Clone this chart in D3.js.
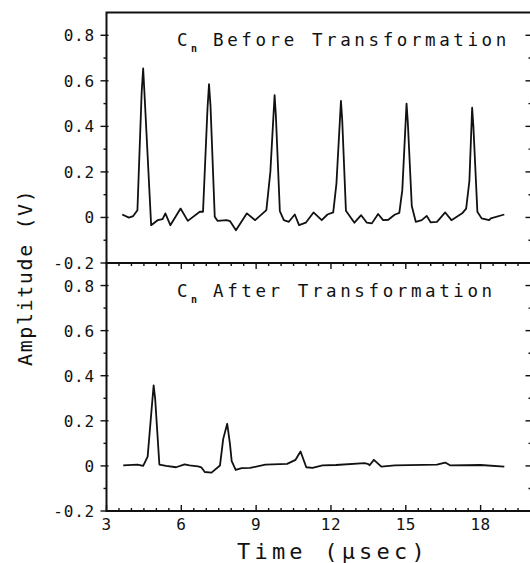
<!DOCTYPE html>
<html>
<head>
<meta charset="utf-8">
<script src="https://cdn.jsdelivr.net/npm/d3@7"></script>
<style>
    body { margin: 0; background: #fff; }
    svg { display: block; }
    text { font-family: "DejaVu Sans Mono", monospace; fill: #111; }
    .frame { fill: none; stroke: #111; stroke-width: 2; }
    .tick { stroke: #111; stroke-width: 1.4; }
    .trace { fill: none; stroke: #111; stroke-width: 1.8; stroke-linejoin: round; }
</style>
</head>
<body>
<svg id="chart" width="530" height="563"></svg>
<script>
// Signal C_n before / after transformation, two stacked panels

// Top panel: C_n before transformation (time in usec, amplitude in V)
const beforeTime = [3.63, 3.90, 4.07, 4.24, 4.41, 4.47, 4.52, 4.79, 5.05, 5.25, 5.36, 5.56, 5.97, 6.26, 6.74, 6.87,
    7.05, 7.11, 7.17, 7.34, 7.45, 7.82, 7.95, 8.19, 8.63, 8.96, 9.41, 9.57, 9.74, 9.79, 9.95, 10.11, 10.31, 10.55,
    10.72, 10.99, 11.30, 11.63, 11.86, 12.09, 12.22, 12.40, 12.45, 12.60, 12.94, 13.21, 13.44, 13.64, 13.89, 14.09,
    14.30, 14.55, 14.74, 14.86, 15.03, 15.08, 15.24, 15.40, 15.64, 15.84, 16.00, 16.25, 16.58, 16.83, 17.26, 17.42,
    17.55, 17.66, 17.71, 17.87, 18.04, 18.34, 18.41, 18.95];
const beforeAmp = [0.013, -0.001, 0.006, 0.032, 0.55, 0.654, 0.55, -0.034, -0.012, -0.007, 0.018, -0.034, 0.039, -0.015, 0.025, 0.025,
    0.48, 0.585, 0.49, 0.003, -0.015, -0.012, -0.016, -0.056, 0.018, -0.012, 0.032, 0.2, 0.537, 0.45, 0.028, -0.012, -0.019, 0.013,
    -0.034, -0.023, 0.022, -0.012, 0.013, 0.022, 0.15, 0.512, 0.43, 0.029, -0.023, 0.010, -0.023, -0.026, 0.015, -0.012,
    -0.010, 0.012, 0.020, 0.12, 0.500, 0.42, 0.050, -0.019, -0.012, 0.007, -0.022, -0.019, 0.022, -0.012, 0.018, 0.039,
    0.16, 0.482, 0.40, 0.025, -0.004, -0.012, -0.004, 0.013];

// Bottom panel: C_n after transformation
const afterTime = [3.67, 4.24, 4.47, 4.65, 4.80, 4.89, 4.95, 5.12, 5.39, 5.79, 6.13, 6.33, 6.67, 6.80, 6.94, 7.21,
    7.55, 7.68, 7.84, 7.95, 8.02, 8.18, 8.42, 8.76, 9.37, 10.24, 10.58, 10.78, 11.01, 11.26, 11.66, 12.20,
    13.35, 13.50, 13.55, 13.72, 14.02, 14.56, 16.25, 16.58, 16.79, 18.0, 18.95];
const afterAmp = [0.002, 0.006, 0.0, 0.041, 0.24, 0.357, 0.30, 0.006, 0.0, -0.006, 0.007, 0.002, -0.002, -0.006, -0.027, -0.030,
    0.002, 0.12, 0.187, 0.098, 0.021, -0.018, -0.010, -0.009, 0.006, 0.009, 0.027, 0.064, -0.006, -0.009, 0.002, 0.004,
    0.012, 0.008, 0.003, 0.027, -0.003, 0.002, 0.006, 0.015, 0.002, 0.004, -0.003];

// Axes
const xDomain = [3, 20];
const yDomain = [-0.2, 0.9];
const xTickValues = [3, 6, 9, 12, 15, 18];
const xTickLabels = ['3', '6', '9', '12', '15', '18'];
const yTickValues = [-0.2, 0, 0.2, 0.4, 0.6, 0.8];
const yTickLabels = ['-0.2', '0', '0.2', '0.4', '0.6', '0.8'];

(function() {
    'use strict';

    const svg = d3.select('#chart');
    const left = 106.5, right = 530.5;
    const frameRight = 532.5;  // right border sits just outside the picture

    const x = d3.scaleLinear().domain(xDomain).range([left, right]);

    const panels = [
        { label: 'Before Transformation', time: beforeTime, amp: beforeAmp, top: 12.5, bottom: 263 },
        { label: 'After Transformation', time: afterTime, amp: afterAmp, top: 263, bottom: 511 }
    ];

    panels.forEach((p, i) => {
        const y = d3.scaleLinear().domain(yDomain).range([p.bottom, p.top]);
        const g = svg.append('g').attr('class', 'panel');

        // frame
        g.append('rect')
            .attr('class', 'frame')
            .attr('x', left).attr('y', p.top)
            .attr('width', frameRight - left).attr('height', p.bottom - p.top);

        // y ticks, left and right
        const yMinor = d3.range(-0.1, 0.85, 0.2);
        yTickValues.forEach(v => {
            g.append('line').attr('class', 'tick')
                .attr('x1', left - 6).attr('x2', left + 2)
                .attr('y1', y(v)).attr('y2', y(v));
            g.append('line').attr('class', 'tick')
                .attr('x1', frameRight - 7).attr('x2', frameRight)
                .attr('y1', y(v)).attr('y2', y(v));
        });
        yMinor.forEach(v => {
            g.append('line').attr('class', 'tick')
                .attr('x1', left - 3).attr('x2', left)
                .attr('y1', y(v)).attr('y2', y(v));
            g.append('line').attr('class', 'tick')
                .attr('x1', frameRight - 4).attr('x2', frameRight)
                .attr('y1', y(v)).attr('y2', y(v));
        });

        g.selectAll('text.ylab')
            .data(yTickValues)
            .join('text')
            .attr('class', 'ylab')
            .attr('x', 95)
            .attr('y', d => y(d) + 6)
            .attr('text-anchor', 'end')
            .attr('font-size', 16)
            .attr('letter-spacing', 0.8)
            .text((d, k) => yTickLabels[k]);

        // panel title with subscript n
        const ty = p.top + 33.5;
        g.append('text')
            .attr('x', 177).attr('y', ty)
            .attr('font-size', 17.5)
            .text('C');
        g.append('text')
            .attr('x', 191).attr('y', ty + 6)
            .attr('font-size', 10)
            .attr('font-weight', 'bold')
            .text('n');
        g.append('text')
            .attr('x', 213).attr('y', ty)
            .attr('font-size', 17.5)
            .attr('letter-spacing', 3.6)
            .text(p.label);

        // trace
        const line = d3.line()
            .x((d, k) => x(p.time[k]))
            .y(d => y(d));
        g.append('path')
            .attr('class', 'trace')
            .attr('d', line(p.amp));

        // x ticks only on the lower panel (top and bottom edges, inward)
        if (i === 1) {
            const xMinor = d3.range(3.5, 20, 1).concat(d3.range(4, 20, 3)).concat(d3.range(5, 20, 3));
            const edges = [[p.bottom, -1], [p.top, 1]];
            edges.forEach(([ey, dir]) => {
                xTickValues.forEach(v => {
                    g.append('line').attr('class', 'tick')
                        .attr('x1', x(v)).attr('x2', x(v))
                        .attr('y1', ey).attr('y2', ey + dir * 6);
                });
                xMinor.forEach(v => {
                    g.append('line').attr('class', 'tick')
                        .attr('x1', x(v)).attr('x2', x(v))
                        .attr('y1', ey).attr('y2', ey + dir * 3);
                });
            });

            g.selectAll('text.xlab')
                .data(xTickValues)
                .join('text')
                .attr('class', 'xlab')
                .attr('x', d => x(d))
                .attr('y', p.bottom + 19)
                .attr('text-anchor', 'middle')
                .attr('font-size', 16)
                .attr('letter-spacing', 0.5)
                .text((d, k) => xTickLabels[k]);
        }
    });

    // axis titles
    svg.append('text')
        .attr('x', 237).attr('y', 559)
        .attr('font-size', 22)
        .attr('letter-spacing', 4.2)
        .text('Time (\u03bcsec)');

    svg.append('text')
        .attr('transform', 'translate(32, 366) rotate(-90)')
        .attr('font-size', 20)
        .attr('letter-spacing', 1.6)
        .text('Amplitude (V)');
})();
</script>
</body>
</html>
